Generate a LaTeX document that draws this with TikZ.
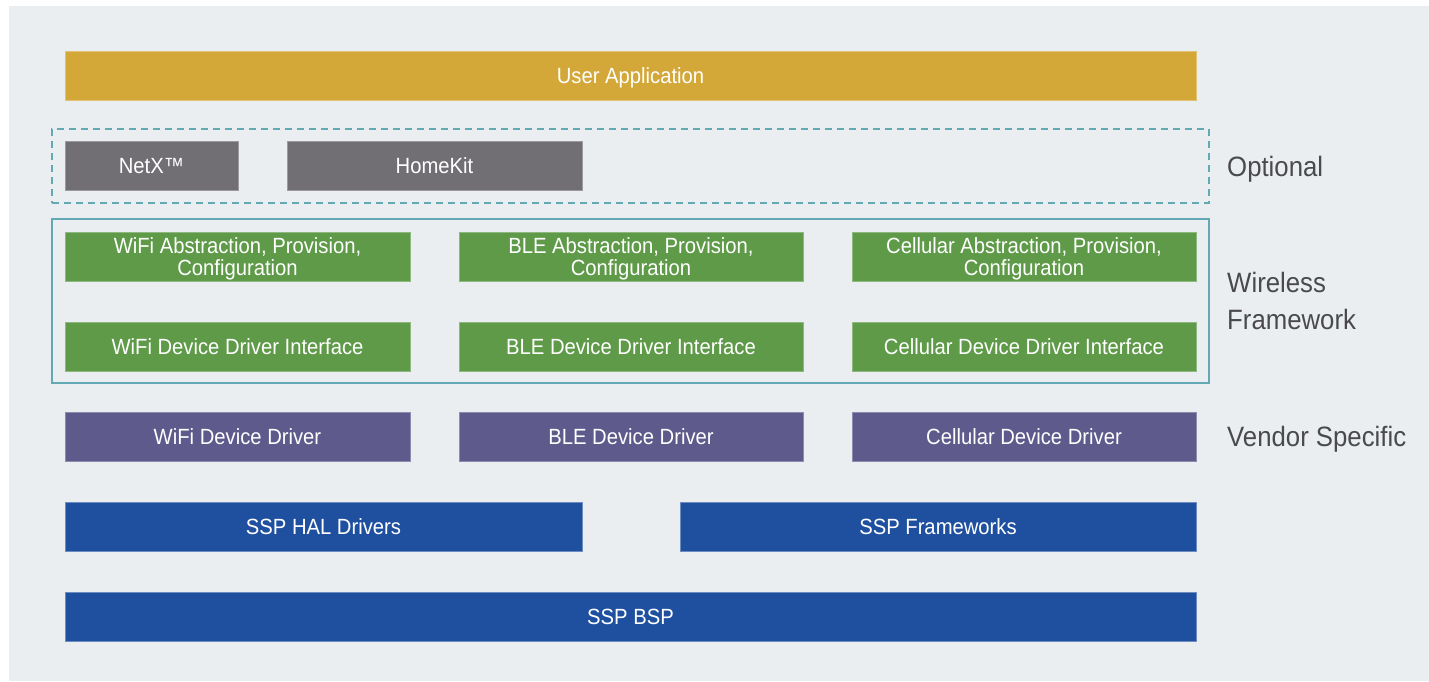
\documentclass[tikz,border=0pt]{standalone}
\usepackage{fontspec}
\setmainfont{Liberation Sans}[FakeStretch=0.92]
\definecolor{panel}{HTML}{EBEEF1}
\definecolor{appgold}{HTML}{D3A838}
\definecolor{optgray}{HTML}{716F74}
\definecolor{wfgreen}{HTML}{5E9A48}
\definecolor{vendpurple}{HTML}{5E5A8C}
\definecolor{sspblue}{HTML}{1F50A0}
\definecolor{frameteal}{HTML}{63A9B3}
\definecolor{labelgray}{HTML}{4A4A4C}
\begin{document}
\begin{tikzpicture}[x=1pt,y=-1pt,
  layer/.style={rectangle, inner sep=0pt, outer sep=0pt, anchor=north west,
    text=white, font=\fontsize{22}{22}\selectfont,
    text height=15pt, text depth=0pt,
    minimum height=49, line width=0.8pt},
  twoline/.style={text height=, text depth=0pt, align=center},
  appbox/.style={layer, fill=appgold, draw=appgold!70!white},
  optbox/.style={layer, fill=optgray, draw=optgray!70!white},
  wfbox/.style={layer, fill=wfgreen, draw=wfgreen!70!white},
  vendbox/.style={layer, fill=vendpurple, draw=vendpurple!70!white},
  sspbox/.style={layer, fill=sspblue, draw=sspblue!65!white},
  groupframe/.style={rectangle, inner sep=0pt, outer sep=0pt, anchor=north west,
    draw=frameteal, line width=1.3pt},
  sidelabel/.style={anchor=base west, inner sep=0pt, text=labelgray,
    font=\fontsize{28}{37}\selectfont, align=left}
]
% canvas and panel
\useasboundingbox (0,0) rectangle (1429,681);
\fill[white] (0,0) rectangle (1429,681);
\fill[panel] (9,6) rectangle (1429,681);

% application layer
\node[appbox, minimum width=1131] (app) at (65,51) {User Application};

% optional components
\node[groupframe, dash pattern=on 7pt off 5pt, minimum width=1157, minimum height=74] (optframe) at (52,129) {};
\node[optbox, minimum width=173] (netx) at (65,141) {NetX™};
\node[optbox, minimum width=295] (homekit) at (287,141) {HomeKit};

% wireless framework
\node[groupframe, minimum width=1157, minimum height=164] (wfframe) at (52,219) {};
\node[wfbox, twoline, minimum width=345] (wifiabs) at (65,232) {WiFi Abstraction, Provision,\\Configuration};
\node[wfbox, twoline, minimum width=344] (bleabs) at (459,232) {BLE Abstraction, Provision,\\Configuration};
\node[wfbox, twoline, minimum width=344] (cellabs) at (852,232) {Cellular Abstraction, Provision,\\Configuration};
\node[wfbox, minimum width=345] (wifiif) at (65,322) {WiFi Device Driver Interface};
\node[wfbox, minimum width=344] (bleif) at (459,322) {BLE Device Driver Interface};
\node[wfbox, minimum width=344] (cellif) at (852,322) {Cellular Device Driver Interface};

% vendor drivers
\node[vendbox, minimum width=345] (wifidrv) at (65,412) {WiFi Device Driver};
\node[vendbox, minimum width=344] (bledrv) at (459,412) {BLE Device Driver};
\node[vendbox, minimum width=344] (celldrv) at (852,412) {Cellular Device Driver};

% SSP layers
\node[sspbox, minimum width=517] (hal) at (65,502) {SSP HAL Drivers};
\node[sspbox, minimum width=516] (fw) at (680,502) {SSP Frameworks};
\node[sspbox, minimum width=1131] (bsp) at (65,592) {SSP BSP};

% side labels
\node[sidelabel] (lopt) at (1227,176) {Optional};
\node[sidelabel] (lwf) at (1227,329) {Wireless\\Framework};
\node[sidelabel] (lvend) at (1227,446.5) {Vendor Specific};
\end{tikzpicture}
\end{document}
